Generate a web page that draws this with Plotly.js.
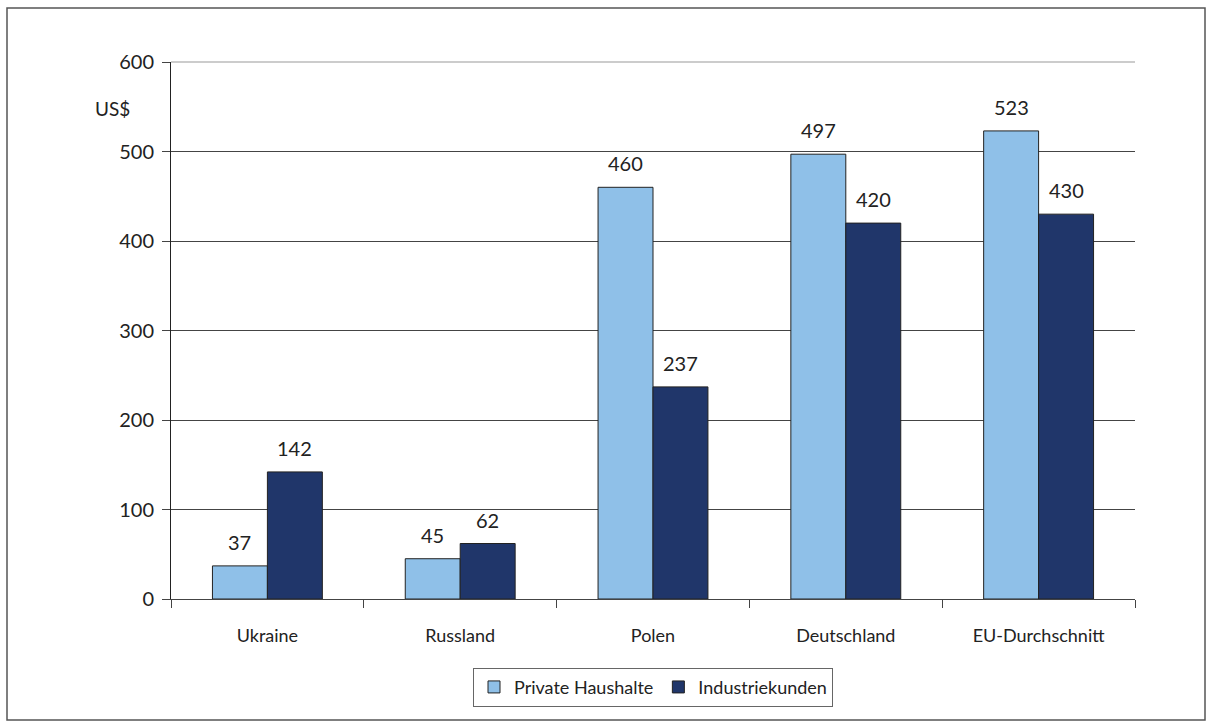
<!DOCTYPE html>
<html><head><meta charset="utf-8">
<script src="https://cdn.plot.ly/plotly-3.0.1.min.js"></script>
<style>html,body{margin:0;padding:0;background:#fff}#chart{width:1212px;height:727px}</style>
</head><body><div id="chart"></div>
<script>
const categories = ['Ukraine', 'Russland', 'Polen', 'Deutschland', 'EU-Durchschnitt'];
const privateHaushalte = [37, 45, 460, 497, 523];
const industriekunden = [142, 62, 237, 420, 430];
const yTicks = [0, 100, 200, 300, 400, 500, 600];

const font = 'Lato, "Open Sans", sans-serif';
const bargap = 0.43;
const half = (1 - bargap) / 4;

const traces = [
  {type:'bar', name:'Private Haushalte', x:categories, y:privateHaushalte,
   marker:{color:'#8fc0e8', line:{color:'#222', width:1}}},
  {type:'bar', name:'Industriekunden', x:categories, y:industriekunden,
   marker:{color:'#20366a', line:{color:'#222', width:1}}}
];
const labelAnn = [];
categories.forEach((c, i) => {
  labelAnn.push({xref:'x', yref:'y', x:i - half, y:privateHaushalte[i], text:String(privateHaushalte[i]),
    showarrow:false, yanchor:'bottom', yshift:10, font:{size:20, family:font, color:'#222'}});
  labelAnn.push({xref:'x', yref:'y', x:i + half, y:industriekunden[i], text:String(industriekunden[i]),
    showarrow:false, yanchor:'bottom', yshift:10, font:{size:20, family:font, color:'#222'}});
});
const layout = {
  width:1212, height:727,
  margin:{l:171, r:77, t:62, b:128},
  paper_bgcolor:'#fff', plot_bgcolor:'#fff',
  font:{family:font, color:'#222', size:16},
  barmode:'group', bargap:bargap, bargroupgap:0,
  showlegend:true,
  legend:{orientation:'h', x:0.5, xanchor:'center', y:-0.128, yanchor:'top',
          bordercolor:'#666', borderwidth:1, font:{size:18, family:font},
          itemwidth:30, traceorder:'normal'},
  xaxis:{type:'category', tickson:'boundaries', ticks:'outside', ticklen:8,
         tickcolor:'#444', showline:true, linecolor:'#444', linewidth:1,
         tickfont:{size:18, family:font}, ticklabelstandoff:20, showgrid:false},
  yaxis:{range:[0,600], tickvals:yTicks, ticktext:yTicks.map(String),
         ticks:'outside', ticklen:8, tickcolor:'#444',
         showline:true, linecolor:'#222', linewidth:1,
         gridcolor:'#444', gridwidth:1, zeroline:false,
         tickfont:{size:20, family:font}, ticklabelstandoff:4},
  annotations:[{xref:'paper', yref:'paper', x:(112-171)/964, y:(599-108)/537, text:'US$',
                showarrow:false, xanchor:'center', yanchor:'middle',
                font:{size:19, family:font, color:'#222'}}].concat(labelAnn),
  shapes:[
    {type:'rect', xref:'paper', yref:'paper', x0:(7-171)/964, x1:(1205-171)/964,
     y0:(599-720)/537, y1:(599-8)/537, line:{color:'#555', width:1.5}, layer:'below'},
    {type:'line', xref:'paper', yref:'paper', x0:0, x1:1, y0:1, y1:1,
     line:{color:'#999', width:1}}
  ]
};
Plotly.newPlot('chart', traces, layout, {displayModeBar:false, staticPlot:true});
</script></body></html>
